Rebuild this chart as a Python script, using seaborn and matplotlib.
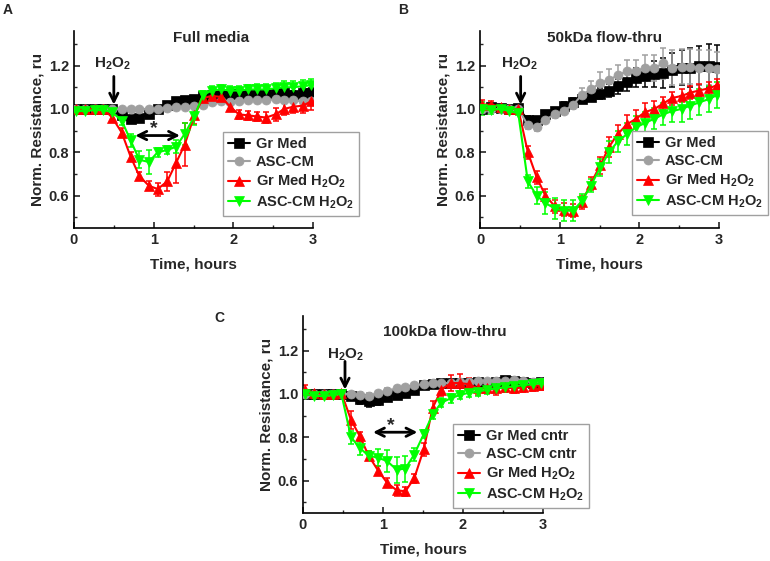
import matplotlib
matplotlib.use("Agg")
import matplotlib.pyplot as plt
import seaborn as sns

# time points (hours), shared by all three panels
time_h = [0.03, 0.14, 0.26, 0.37, 0.48, 0.60, 0.71, 0.82, 0.94, 1.05, 1.17, 1.28, 1.39, 1.51,
          1.62, 1.73, 1.85, 1.96, 2.07, 2.19, 2.30, 2.41, 2.53, 2.64, 2.75, 2.87, 2.98]

# Panel A - full media
a_grmed = [1.00, 1.00, 1.00, 1.00, 1.00, 0.97, 0.955, 0.96, 0.975, 1.00, 1.02, 1.035, 1.04, 1.045,
           1.06, 1.065, 1.065, 1.07, 1.07, 1.07, 1.07, 1.07, 1.075, 1.08, 1.065, 1.075, 1.075]
a_grmed_err = [0.01, 0.01, 0.01, 0.01, 0.01, 0.01, 0.01, 0.01, 0.015, 0.01, 0.01, 0.01, 0.01, 0.01,
               0.015, 0.015, 0.015, 0.015, 0.015, 0.015, 0.015, 0.015, 0.015, 0.015, 0.02, 0.02, 0.02]
a_asccm = [1.00, 1.00, 1.00, 1.00, 1.00, 1.00, 1.00, 1.00, 1.00, 1.00, 1.005, 1.01, 1.01, 1.015,
           1.02, 1.03, 1.035, 1.03, 1.035, 1.04, 1.04, 1.04, 1.045, 1.04, 1.04, 1.035, 1.035]
a_asccm_err = [0.01, 0.01, 0.01, 0.01, 0.01, 0.01, 0.01, 0.01, 0.01, 0.01, 0.01, 0.01, 0.01, 0.01,
               0.01, 0.01, 0.01, 0.01, 0.01, 0.01, 0.01, 0.01, 0.01, 0.015, 0.015, 0.015, 0.015]
a_grmed_h2o2 = [1.00, 1.00, 1.00, 1.00, 0.96, 0.89, 0.78, 0.69, 0.645, 0.63, 0.665, 0.75, 0.835, 0.97,
                1.05, 1.06, 1.055, 1.01, 0.975, 0.97, 0.965, 0.96, 0.975, 1.00, 1.01, 1.015, 1.035]
a_grmed_h2o2_err = [0.015, 0.01, 0.01, 0.01, 0.02, 0.02, 0.02, 0.02, 0.02, 0.03, 0.045, 0.09, 0.1, 0.04,
                    0.03, 0.02, 0.02, 0.02, 0.02, 0.02, 0.02, 0.025, 0.03, 0.03, 0.03, 0.035, 0.04]
a_asccm_h2o2 = [0.99, 0.99, 0.995, 0.995, 0.985, 0.945, 0.855, 0.765, 0.755, 0.80, 0.81, 0.825, 0.885, 0.965,
                1.065, 1.085, 1.09, 1.085, 1.085, 1.09, 1.09, 1.09, 1.095, 1.10, 1.10, 1.105, 1.11]
a_asccm_h2o2_err = [0.015, 0.01, 0.01, 0.01, 0.015, 0.02, 0.03, 0.04, 0.055, 0.02, 0.02, 0.03, 0.05, 0.04,
                    0.02, 0.02, 0.02, 0.02, 0.02, 0.02, 0.025, 0.025, 0.025, 0.03, 0.03, 0.03, 0.03]

# Panel B - 50kDa flow-thru
b_grmed = [1.00, 1.01, 1.005, 1.00, 1.005, 0.95, 0.95, 0.975, 0.99, 1.015, 1.03, 1.045, 1.055, 1.07,
           1.085, 1.105, 1.125, 1.145, 1.15, 1.16, 1.165, 1.18, 1.19, 1.19, 1.20, 1.20, 1.195]
b_grmed_err = [0.02, 0.01, 0.01, 0.01, 0.015, 0.015, 0.01, 0.01, 0.01, 0.015, 0.02, 0.02, 0.02, 0.025,
               0.03, 0.035, 0.04, 0.045, 0.05, 0.06, 0.07, 0.08, 0.08, 0.09, 0.09, 0.1, 0.1]
b_asccm = [1.00, 1.00, 1.00, 1.00, 1.00, 0.925, 0.915, 0.95, 0.975, 0.99, 1.02, 1.065, 1.09, 1.12,
           1.135, 1.155, 1.175, 1.175, 1.19, 1.19, 1.21, 1.19, 1.195, 1.195, 1.19, 1.19, 1.185]
b_asccm_err = [0.02, 0.01, 0.01, 0.01, 0.01, 0.02, 0.015, 0.015, 0.015, 0.015, 0.02, 0.03, 0.04, 0.05,
               0.05, 0.05, 0.05, 0.05, 0.06, 0.06, 0.07, 0.08, 0.08, 0.08, 0.08, 0.08, 0.08]
b_grmed_h2o2 = [1.02, 1.02, 1.01, 1.00, 1.00, 0.80, 0.685, 0.60, 0.55, 0.535, 0.53, 0.57, 0.655, 0.74,
                0.825, 0.885, 0.93, 0.955, 0.985, 1.00, 1.025, 1.05, 1.06, 1.075, 1.085, 1.095, 1.11]
b_grmed_h2o2_err = [0.02, 0.015, 0.01, 0.01, 0.015, 0.03, 0.03, 0.03, 0.03, 0.03, 0.03, 0.03, 0.03, 0.04,
                    0.045, 0.04, 0.04, 0.04, 0.04, 0.035, 0.03, 0.03, 0.03, 0.03, 0.03, 0.03, 0.03]
b_asccm_h2o2 = [1.00, 0.995, 1.00, 0.99, 0.98, 0.665, 0.60, 0.565, 0.54, 0.53, 0.53, 0.575, 0.645, 0.73,
                0.80, 0.85, 0.885, 0.915, 0.935, 0.955, 0.975, 0.99, 1.00, 1.015, 1.03, 1.045, 1.065]
b_asccm_h2o2_err = [0.03, 0.02, 0.01, 0.01, 0.01, 0.03, 0.04, 0.05, 0.05, 0.05, 0.05, 0.03, 0.03, 0.04,
                    0.05, 0.05, 0.05, 0.05, 0.05, 0.05, 0.05, 0.05, 0.06, 0.06, 0.06, 0.06, 0.06]

# Panel C - 100kDa flow-thru
c_grmed = [1.00, 1.00, 1.00, 1.00, 1.00, 0.99, 0.975, 0.965, 0.97, 0.985, 0.995, 1.005, 1.02, 1.04,
           1.045, 1.05, 1.05, 1.05, 1.05, 1.055, 1.05, 1.055, 1.065, 1.06, 1.055, 1.05, 1.055]
c_grmed_err = [0.02, 0.01, 0.01, 0.01, 0.01, 0.02, 0.02, 0.025, 0.02, 0.02, 0.015, 0.01, 0.015, 0.015,
               0.01, 0.01, 0.01, 0.01, 0.015, 0.015, 0.01, 0.01, 0.01, 0.015, 0.01, 0.01, 0.015]
c_asccm = [1.00, 1.00, 1.00, 1.00, 1.00, 1.00, 0.995, 0.99, 1.005, 1.015, 1.025, 1.03, 1.04, 1.045,
           1.05, 1.05, 1.05, 1.055, 1.055, 1.06, 1.06, 1.06, 1.06, 1.065, 1.06, 1.055, 1.055]
c_asccm_err = [0.01, 0.01, 0.01, 0.01, 0.01, 0.01, 0.015, 0.015, 0.01, 0.01, 0.01, 0.01, 0.01, 0.01,
               0.01, 0.01, 0.01, 0.01, 0.01, 0.01, 0.01, 0.01, 0.01, 0.015, 0.015, 0.015, 0.015]
c_grmed_h2o2 = [1.02, 1.005, 1.00, 1.00, 1.005, 0.88, 0.805, 0.715, 0.645, 0.59, 0.555, 0.55, 0.61, 0.745,
                0.935, 1.02, 1.05, 1.05, 1.045, 1.025, 1.025, 1.025, 1.03, 1.025, 1.03, 1.035, 1.04]
c_grmed_h2o2_err = [0.02, 0.01, 0.01, 0.01, 0.01, 0.04, 0.02, 0.02, 0.02, 0.02, 0.025, 0.02, 0.02, 0.03,
                    0.03, 0.03, 0.035, 0.04, 0.03, 0.03, 0.02, 0.03, 0.02, 0.02, 0.02, 0.02, 0.02]
c_asccm_h2o2 = [1.00, 0.99, 0.99, 0.995, 1.00, 0.80, 0.75, 0.715, 0.705, 0.69, 0.65, 0.655, 0.72, 0.815,
                0.905, 0.96, 0.98, 0.995, 1.005, 1.01, 1.02, 1.025, 1.03, 1.035, 1.04, 1.045, 1.05]
c_asccm_h2o2_err = [0.01, 0.01, 0.01, 0.01, 0.01, 0.03, 0.03, 0.02, 0.04, 0.05, 0.06, 0.06, 0.03, 0.02,
                    0.02, 0.02, 0.02, 0.02, 0.02, 0.02, 0.02, 0.02, 0.02, 0.02, 0.02, 0.02, 0.02]

labels_ab = ["Gr Med", "ASC-CM", "Gr Med H$_2$O$_2$", "ASC-CM H$_2$O$_2$"]
labels_c = ["Gr Med cntr", "ASC-CM cntr", "Gr Med H$_2$O$_2$", "ASC-CM H$_2$O$_2$"]
colors = ["#000000", "#a0a0a0", "#ff0000", "#00ff00"]
markers = ["s", "o", "^", "v"]

sns.set_style("ticks", {"xtick.direction": "in", "ytick.direction": "in"})
plt.rcParams["font.family"] = ["Liberation Sans", "DejaVu Sans"]
plt.rcParams["font.weight"] = "bold"
plt.rcParams["mathtext.fontset"] = "custom"
plt.rcParams["mathtext.bf"] = "Liberation Sans:bold"
plt.rcParams["mathtext.rm"] = "Liberation Sans:bold"
plt.rcParams["mathtext.default"] = "bf"


def draw_panel(ax, series, errs, labels, title, title_pos, leg_anchor, arrow_x, text_xy, star=None):
    for vals, err, lab, c, m in zip(series, errs, labels, colors, markers):
        ax.errorbar(time_h, vals, yerr=err, fmt="none", ecolor=c, elinewidth=1.1,
                    capsize=2.5, capthick=1.1, zorder=2)
        sns.lineplot(x=time_h, y=vals, ax=ax, color=c, marker=m, markersize=6.5,
                     markeredgecolor=c, markeredgewidth=0.5, linewidth=1.5,
                     label=lab, estimator=None, zorder=3)
    ax.set_xlim(0, 3)
    ax.set_ylim(0.45, 1.36)
    ax.set_xticks([0, 1, 2, 3])
    ax.set_xticks([0.5, 1.5, 2.5], minor=True)
    ax.set_yticks([0.6, 0.8, 1.0, 1.2])
    ax.set_yticks([0.5, 0.7, 0.9, 1.1, 1.3], minor=True)
    ax.set_yticklabels(["0.6", "0.8", "1.0", "1.2"])
    ax.tick_params(which="major", length=4, width=1.2, labelsize=10.5, direction="in")
    ax.tick_params(which="minor", length=2.5, width=1.0, direction="in")
    for lbl in ax.get_xticklabels() + ax.get_yticklabels():
        lbl.set_fontweight("bold")
    sns.despine(ax=ax)
    for sp in ["left", "bottom"]:
        ax.spines[sp].set_linewidth(1.2)
        ax.spines[sp].set_color("black")
    ax.set_xlabel("Time, hours", fontsize=11, fontweight="bold", labelpad=8)
    ax.set_ylabel("Norm. Resistance, ru", fontsize=11, fontweight="bold", labelpad=3)
    ax.text(title_pos[0], title_pos[1], title, transform=ax.transAxes, ha="center", va="center",
            fontsize=11, fontweight="bold")
    # H2O2 addition marker
    ax.annotate("", xy=(arrow_x, 1.02), xytext=(arrow_x, 1.15),
                arrowprops=dict(arrowstyle="->", lw=2, color="black", mutation_scale=15,
                                shrinkA=0, shrinkB=0))
    ax.text(text_xy[0], text_xy[1], "H$_2$O$_2$", ha="center", va="center", fontsize=11)
    if star is not None:
        x0, x1, y = star
        ax.annotate("", xy=(x0, y), xytext=(x1, y),
                    arrowprops=dict(arrowstyle="<->", lw=2, color="black", mutation_scale=15,
                                    shrinkA=0, shrinkB=0))
        ax.text((x0 + x1) / 2 - 0.05, y + 0.03, "*", ha="center", va="center", fontsize=14)
    leg = ax.legend(loc="lower left", bbox_to_anchor=leg_anchor, frameon=True, fancybox=False,
                    edgecolor="#a0a0a0", framealpha=1, prop={"weight": "bold", "size": 10.5},
                    handlelength=1.5, handletextpad=0.4, labelspacing=0.28, borderpad=0.35,
                    borderaxespad=0)
    leg.get_frame().set_linewidth(1.0)


fig = plt.figure(figsize=(7.7, 5.61), dpi=100)
axA = fig.add_axes([0.0961, 0.5936, 0.3104, 0.3512])
axB = fig.add_axes([0.6234, 0.5936, 0.3104, 0.3512])
axC = fig.add_axes([0.3935, 0.0856, 0.3117, 0.3512])

draw_panel(axA, [a_grmed, a_asccm, a_grmed_h2o2, a_asccm_h2o2],
           [a_grmed_err, a_asccm_err, a_grmed_h2o2_err, a_asccm_h2o2_err],
           labels_ab, "Full media", (0.573, 0.964), (0.623, 0.061), 0.5, (0.48, 1.21),
           star=(0.77, 1.33, 0.877))
draw_panel(axB, [b_grmed, b_asccm, b_grmed_h2o2, b_asccm_h2o2],
           [b_grmed_err, b_asccm_err, b_grmed_h2o2_err, b_asccm_h2o2_err],
           labels_ab, "50kDa flow-thru", (0.523, 0.964), (0.636, 0.066), 0.51, (0.5, 1.21))
draw_panel(axC, [c_grmed, c_asccm, c_grmed_h2o2, c_asccm_h2o2],
           [c_grmed_err, c_asccm_err, c_grmed_h2o2_err, c_asccm_h2o2_err],
           labels_c, "100kDa flow-thru", (0.59, 0.92), (0.625, 0.025), 0.525, (0.53, 1.18),
           star=(0.875, 1.43, 0.823))

fig.text(0.003, 0.995, "A", fontsize=10, fontweight="bold", va="top", ha="left")
fig.text(0.517, 0.995, "B", fontsize=10, fontweight="bold", va="top", ha="left")
fig.text(0.279, 0.445, "C", fontsize=10, fontweight="bold", va="top", ha="left")

fig.savefig("out.png", dpi=100)
